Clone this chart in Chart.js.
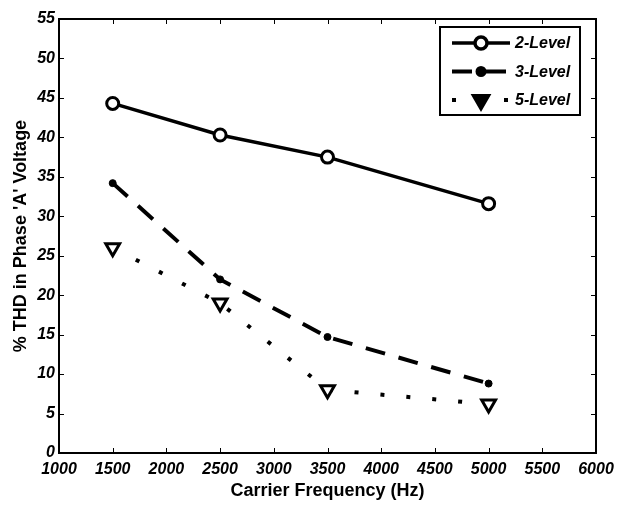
<!DOCTYPE html>
<html lang="en">
<head>
<meta charset="UTF-8">
<title>THD vs Carrier Frequency</title>
<script src="https://cdn.jsdelivr.net/npm/chart.js@4/dist/chart.umd.min.js"></script>
<style>
  html, body { margin: 0; padding: 0; background: #fff; }
  #wrap { width: 621px; height: 506px; }
</style>
</head>
<body>
<div id="wrap"><canvas id="myChart" width="621" height="506"></canvas></div>
<script>
    // data
    var frequencies = [1500, 2500, 3500, 5000];
    var thd2Level = [44.3, 40.3, 37.5, 31.6];
    var thd3Level = [34.2, 22.0, 14.7, 8.8];
    var thd5Level = [26.0, 19.0, 8.0, 6.2];
    var seriesNames = ['2-Level', '3-Level', '5-Level'];
    var xTicks = [1000, 1500, 2000, 2500, 3000, 3500, 4000, 4500, 5000, 5500, 6000];
    var yTicks = [0, 5, 10, 15, 20, 25, 30, 35, 40, 45, 50, 55];

    function toPoints(values) {
        return frequencies.map((f, i) => ({ x: f, y: values[i] }));
    }

    // box around the plot with inward ticks on all four sides
    const boxPlugin = {
        id: 'box',
        afterDraw(chart) {
            const ctx = chart.ctx, a = chart.chartArea;
            const xs = chart.scales.x, ys = chart.scales.y;
            ctx.save();
            ctx.strokeStyle = '#000';
            ctx.lineWidth = 2;
            ctx.strokeRect(a.left, a.top, a.right - a.left, a.bottom - a.top);
            ctx.lineWidth = 1;
            ctx.beginPath();
            xTicks.forEach(v => {
                const px = Math.round(xs.getPixelForValue(v)) + 0.5;
                ctx.moveTo(px, a.bottom); ctx.lineTo(px, a.bottom - 5);
                ctx.moveTo(px, a.top); ctx.lineTo(px, a.top + 5);
            });
            yTicks.forEach(v => {
                const py = Math.round(ys.getPixelForValue(v)) + 0.5;
                ctx.moveTo(a.left, py); ctx.lineTo(a.left + 5, py);
                ctx.moveTo(a.right, py); ctx.lineTo(a.right - 5, py);
            });
            ctx.stroke();
            ctx.restore();
        }
    };

    // MATLAB style legend box in the top right corner
    const legendPlugin = {
        id: 'boxLegend',
        afterDraw(chart) {
            const ctx = chart.ctx, a = chart.chartArea;
            const left = a.right - 156, top = a.top + 8, w = 140, h = 88;
            ctx.save();
            ctx.fillStyle = '#fff';
            ctx.fillRect(left, top, w, h);
            ctx.strokeStyle = '#000';
            ctx.lineWidth = 2;
            ctx.strokeRect(left, top, w, h);
            chart.data.datasets.forEach((ds, i) => {
                const y = top + 16 + i * 28.5;
                const x0 = left + 12, x1 = left + 70, xm = (x0 + x1) / 2;
                ctx.strokeStyle = '#000';
                ctx.lineWidth = ds.borderWidth;
                ctx.lineCap = 'butt';
                ctx.setLineDash(ds.legendDash);
                ctx.beginPath();
                ctx.moveTo(x0, y); ctx.lineTo(x1, y);
                ctx.stroke();
                ctx.setLineDash([]);
                ctx.fillStyle = ds.legendFill;
                Chart.helpers.drawPoint(ctx, {
                    pointStyle: ds.pointStyle,
                    rotation: ds.pointRotation || 0,
                    radius: ds.pointRadius,
                    borderWidth: ds.pointBorderWidth
                }, xm, y);
                ctx.fillStyle = '#000';
                ctx.font = 'italic bold 16px "Liberation Sans", Arial, sans-serif';
                ctx.textBaseline = 'middle';
                ctx.fillText(ds.label, x1 + 5, y + 1);
            });
            ctx.restore();
        }
    };

    const tickFont = { family: '"Liberation Sans", Arial, sans-serif', size: 16, weight: 'bold', style: 'italic' };
    const titleFont = { family: '"Liberation Sans", Arial, sans-serif', size: 18, weight: 'bold' };

    new Chart(document.getElementById('myChart').getContext('2d'), {
        type: 'line',
        data: {
            datasets: [
                {
                    label: seriesNames[0], data: toPoints(thd2Level),
                    borderColor: '#000', backgroundColor: '#fff', borderWidth: 3.5,
                    legendDash: [], legendFill: '#fff',
                    pointStyle: 'circle', pointRadius: 6, pointBorderWidth: 3,
                    pointBackgroundColor: '#fff', pointBorderColor: '#000'
                },
                {
                    label: seriesNames[1], data: toPoints(thd3Level),
                    borderColor: '#000', backgroundColor: '#000', borderWidth: 4,
                    borderDash: [20, 14], legendDash: [20, 14], legendFill: '#000',
                    pointStyle: 'circle', pointRadius: 3.5, pointBorderWidth: 1,
                    pointBackgroundColor: '#000', pointBorderColor: '#000'
                },
                {
                    label: seriesNames[2], data: toPoints(thd5Level),
                    borderColor: '#000', backgroundColor: '#fff', borderWidth: 4,
                    borderDash: [4, 22], legendDash: [4, 22], legendFill: '#000',
                    pointStyle: 'triangle', pointRotation: 180, pointRadius: 8, pointBorderWidth: 3,
                    pointBackgroundColor: '#fff', pointBorderColor: '#000'
                }
            ]
        },
        options: {
            responsive: false,
            animation: false,
            layout: { padding: { left: 10, right: 25, top: 19, bottom: 4 } },
            plugins: { legend: { display: false }, tooltip: { enabled: false } },
            elements: { line: { tension: 0, borderCapStyle: 'butt' } },
            scales: {
                x: {
                    type: 'linear', min: 1000, max: 6000,
                    afterBuildTicks: s => { s.ticks = xTicks.map(v => ({ value: v })); },
                    afterFit: s => { s.height = 49; },
                    grid: { display: false, drawTicks: false },
                    border: { display: false },
                    ticks: { color: '#000', font: tickFont, padding: 7, maxRotation: 0, autoSkip: false, callback: v => String(v) },
                    title: { display: true, text: 'Carrier Frequency (Hz)', color: '#000', font: titleFont, padding: { top: 2, bottom: 0 } }
                },
                y: {
                    type: 'linear', min: 0, max: 55,
                    afterBuildTicks: s => { s.ticks = yTicks.map(v => ({ value: v })); },
                    afterFit: s => { s.width = 49; },
                    grid: { display: false, drawTicks: false },
                    border: { display: false },
                    ticks: { color: '#000', font: tickFont, padding: 4, autoSkip: false, callback: v => String(v) },
                    title: { display: true, text: "% THD in Phase 'A' Voltage", color: '#000', font: titleFont, padding: 0 }
                }
            }
        },
        plugins: [boxPlugin, legendPlugin]
    });
</script>
</body>
</html>
